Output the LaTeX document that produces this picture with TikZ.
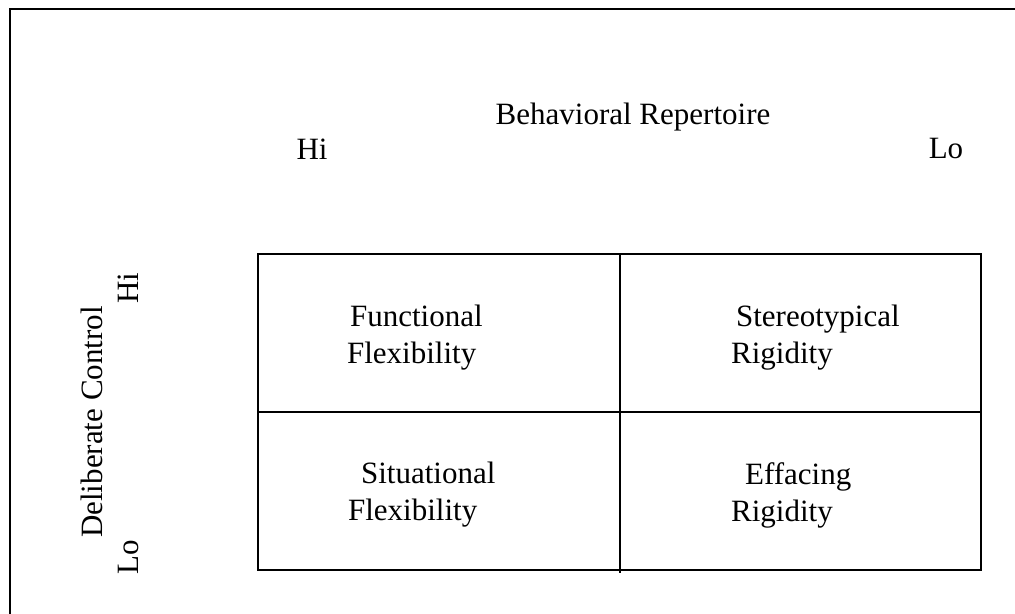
\documentclass[tikz,border=0pt]{standalone}
\usepackage{fontspec}
\setmainfont{Liberation Serif}

\begin{document}
\begin{tikzpicture}[x=0.5pt,y=-0.5pt]
    \useasboundingbox (0,0) rectangle (1015,614);
    \begin{scope}[line width=1.1pt,font=\fontsize{15.5}{18.5}\selectfont]
    % Frame:
    % Only its top and left sides fall inside the page:
    \draw (1015,9) -- (10,9) -- (10,614);

    % Grid:
    \coordinate (gridNW) at (258,254);
    \coordinate (gridSE) at (981,570);
    \coordinate (midTop) at (620,254);
    \coordinate (midBot) at (620,573);
    \coordinate (midL) at (258,412);
    \coordinate (midR) at (981,412);
    \draw (gridNW) rectangle (gridSE);
    \draw (midTop) -- (midBot);
    \draw (midL) -- (midR);

    % Axis labels:
    \node (repertoire) [anchor=base, inner sep=0] at (633,125) {Behavioral Repertoire};
    \node (repHi) [anchor=base, inner sep=0] at (312,160) {Hi};
    \node (repLo) [anchor=base, inner sep=0] at (946,159) {Lo};
    \node (control) [rotate=90, inner sep=0] at (92,422) {Deliberate Control};
    \node (conHi) [rotate=90, inner sep=0] at (128,288) {Hi};
    \node (conLo) [rotate=90, inner sep=0] at (128,557) {Lo};

    % Cells:
    \node (functional) [anchor=west, align=left, inner sep=0] at (346,338)
        {\hspace{1.5pt}Functional\\Flexibility};
    \node (stereotypical) [anchor=west, align=left, inner sep=0] at (730,338)
        {\hspace{2.5pt}Stereotypical\\Rigidity};
    \node (situational) [anchor=west, align=left, inner sep=0] at (347,495)
        {\hspace{6.5pt}Situational\\Flexibility};
    \node (effacing) [anchor=west, align=left, inner sep=0] at (730,495)
        {\hspace{7pt}Effacing\\Rigidity};

    \end{scope}
\end{tikzpicture}
\end{document}
